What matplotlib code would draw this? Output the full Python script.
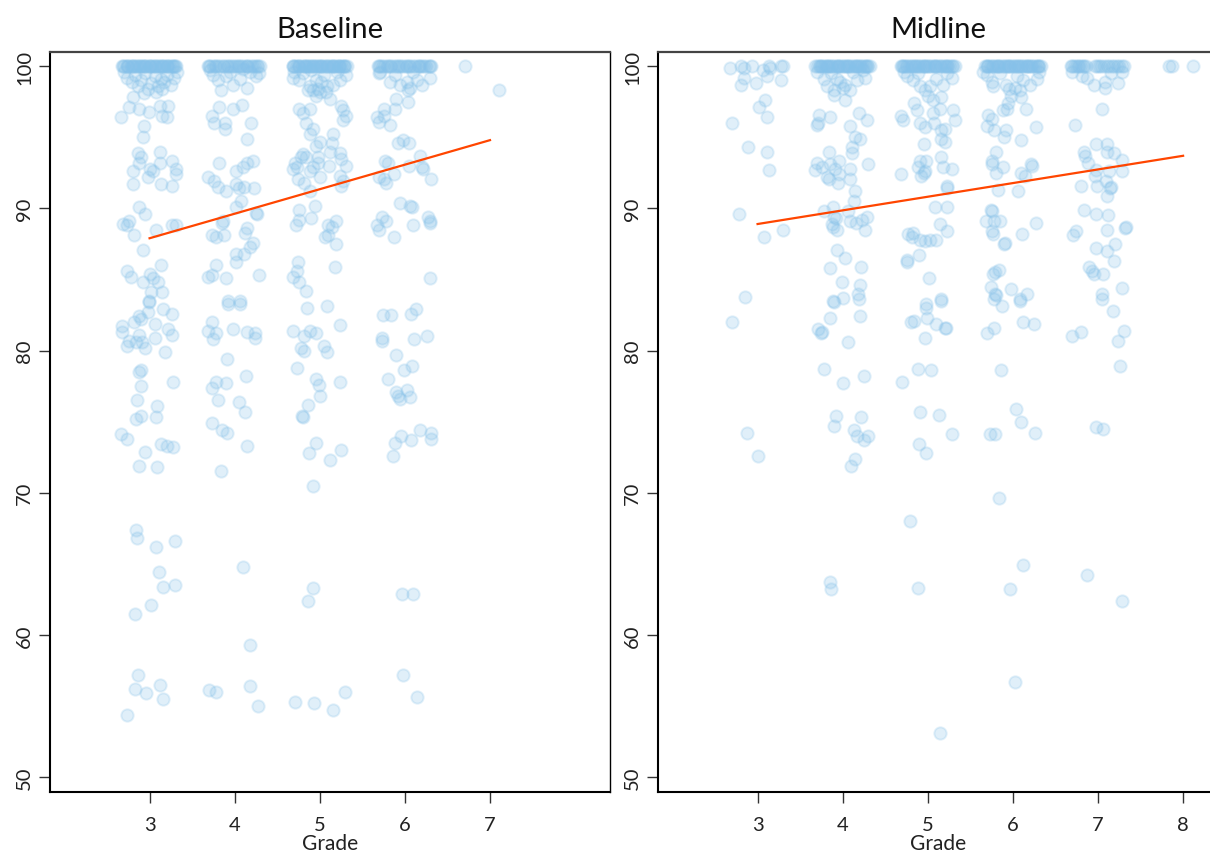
import matplotlib
matplotlib.use('Agg')
import matplotlib.pyplot as plt

plt.rcParams['font.family'] = ['Lato', 'DejaVu Sans']

panel_titles = ['Baseline', 'Midline']
x_label = 'Grade'
base_ticks = [3, 4, 5, 6, 7]
mid_ticks = [3, 4, 5, 6, 7, 8]
y_ticks = [50, 60, 70, 80, 90, 100]

# ---------------- Baseline ----------------
# jittered grade of the students who scored 100
base_top_x = [2.68, 2.70, 2.73, 2.75, 2.78, 2.80, 2.82, 2.85, 2.87, 2.89, 2.92, 2.94, 2.96, 2.99,
              3.01, 3.03, 3.06, 3.08, 3.10, 3.13, 3.15, 3.17, 3.20, 3.22, 3.24, 3.27, 3.29, 3.31,
              2.69, 2.74, 2.79, 2.84, 2.90, 2.95, 3.00, 3.05, 3.11, 3.16, 3.21, 3.26, 3.30,
              3.69, 3.71, 3.74, 3.77, 3.80, 3.83, 3.86, 3.88, 3.91, 3.94, 3.97, 3.99, 4.02, 4.05,
              4.08, 4.10, 4.13, 4.16, 4.19, 4.22, 4.24, 4.27, 4.30, 3.70, 3.78, 3.92, 4.04, 4.15, 4.26,
              4.68, 4.70, 4.72, 4.74, 4.76, 4.79, 4.81, 4.83, 4.85, 4.87, 4.89, 4.91, 4.93, 4.95,
              4.97, 4.99, 5.01, 5.03, 5.05, 5.08, 5.10, 5.12, 5.14, 5.16, 5.18, 5.20, 5.22, 5.24,
              5.26, 5.28, 5.30, 5.32, 4.69, 4.75, 4.84, 4.92, 5.00, 5.07, 5.15, 5.23, 5.29,
              5.68, 5.71, 5.73, 5.76, 5.79, 5.82, 5.84, 5.87, 5.90, 5.92, 5.95, 5.98, 6.01, 6.03,
              6.06, 6.09, 6.12, 6.15, 6.17, 6.20, 6.23, 6.25, 6.28, 6.31, 5.70, 5.80, 5.93, 6.05,
              6.18, 6.29,
              6.71]

base_g3 = [(2.70, 99.6), (2.74, 99.2), (2.79, 98.9), (2.83, 99.4), (2.86, 98.6), (2.90, 99.0),
           (2.95, 99.5), (2.98, 98.4), (3.02, 98.8), (3.06, 99.3), (3.10, 98.6), (3.13, 99.1),
           (3.17, 98.9), (3.21, 99.4), (3.25, 98.7), (3.29, 99.2), (3.32, 99.6), (2.93, 98.1),
           (3.08, 98.2), (3.15, 98.4), (2.80, 97.8), (2.76, 97.1), (2.88, 97.0), (2.99, 96.8),
           (2.67, 96.4), (3.12, 97.2), (3.22, 97.2), (3.15, 96.5), (3.21, 96.4), (2.93, 95.8),
           (2.92, 95.0), (2.86, 93.9), (2.90, 93.6), (3.12, 94.0), (2.88, 93.2), (2.80, 92.6),
           (3.00, 92.8), (3.04, 92.6), (2.98, 92.2), (3.26, 93.3), (3.31, 92.8), (3.31, 92.4),
           (3.12, 93.2), (2.80, 91.7), (3.14, 91.7), (3.26, 91.6), (2.88, 90.1), (2.95, 89.6),
           (2.69, 88.9), (2.76, 89.1), (2.73, 88.8), (2.82, 88.1), (3.07, 88.5), (3.26, 88.8),
           (3.31, 88.8), (2.92, 87.1), (2.73, 85.6), (2.78, 85.2), (3.14, 86.0), (3.00, 85.4),
           (3.04, 85.1), (2.92, 84.8), (3.10, 84.8), (3.02, 84.1), (3.15, 84.1), (2.99, 83.5),
           (2.99, 83.4), (3.16, 82.9), (3.26, 82.6), (2.98, 82.7), (2.87, 82.4), (2.82, 82.0),
           (2.90, 82.2), (3.06, 81.9), (2.68, 81.7), (2.68, 81.3), (3.22, 81.5), (3.26, 81.1),
           (2.88, 81.1), (2.76, 80.7), (2.84, 80.6), (2.91, 80.6), (3.06, 80.9), (2.74, 80.3),
           (2.95, 80.2), (3.18, 79.9), (2.87, 78.5), (2.90, 78.6), (3.27, 77.8), (2.90, 77.5),
           (2.85, 76.5), (3.09, 76.1), (2.84, 75.2), (2.90, 75.4), (3.07, 75.3), (2.67, 74.1),
           (2.73, 73.8), (3.13, 73.4), (3.20, 73.3), (3.28, 73.2), (2.95, 72.9), (2.87, 71.9),
           (3.09, 71.8), (2.84, 67.4), (2.85, 66.8), (3.08, 66.2), (3.30, 66.6), (3.11, 64.4),
           (3.16, 63.4), (3.30, 63.5), (3.02, 62.1), (2.83, 61.5), (2.86, 57.2), (2.83, 56.2),
           (2.96, 55.9), (3.12, 56.5), (3.16, 55.5), (2.74, 54.4)]

base_g4 = [(3.71, 99.7), (3.75, 99.4), (3.80, 99.0), (3.84, 98.3), (3.90, 99.3), (3.95, 99.6),
           (3.98, 98.7), (4.06, 99.1), (4.10, 99.8), (4.14, 98.5), (4.18, 99.6), (4.25, 99.3),
           (4.29, 99.5), (3.82, 97.1), (3.98, 97.0), (4.09, 97.3), (3.73, 96.5), (3.76, 96.0),
           (3.89, 96.0), (3.89, 95.6), (4.19, 96.0), (4.15, 94.9), (3.82, 93.2), (3.69, 92.2),
           (3.76, 91.9), (3.80, 91.5), (3.90, 91.2), (4.02, 92.6), (4.10, 92.9), (4.14, 93.2),
           (4.22, 93.3), (4.02, 91.7), (4.05, 91.4), (4.11, 91.5), (4.23, 91.4), (4.08, 90.5),
           (4.02, 90.1), (4.26, 89.6), (4.25, 89.7), (3.86, 89.1), (3.85, 89.0), (3.73, 88.1),
           (3.78, 88.0), (3.88, 88.1), (4.14, 88.6), (4.12, 88.3), (4.22, 87.6), (4.18, 87.3),
           (4.02, 86.8), (4.11, 86.8), (4.02, 86.2), (3.78, 86.0), (3.69, 85.2), (3.73, 85.3),
           (3.90, 85.1), (4.29, 85.3), (3.92, 83.5), (4.06, 83.5), (3.92, 83.3), (4.06, 83.3),
           (3.73, 82.0), (3.69, 81.4), (3.78, 81.2), (3.75, 80.8), (3.98, 81.5), (4.14, 81.3),
           (4.24, 81.2), (4.24, 80.9), (3.91, 79.4), (4.13, 78.2), (3.73, 77.4), (3.78, 77.8),
           (3.90, 77.7), (3.80, 76.5), (4.05, 76.4), (4.12, 75.7), (3.73, 74.9), (3.85, 74.4),
           (3.91, 74.2), (4.14, 73.3), (3.84, 71.5), (4.10, 64.8), (4.18, 59.3), (3.70, 56.1),
           (3.78, 56.0), (4.18, 56.4), (4.27, 55.0)]

base_g5 = [(4.68, 99.2), (4.70, 99.6), (4.76, 99.0), (4.80, 99.5), (4.86, 98.3), (4.89, 98.6),
           (4.90, 99.7), (4.92, 98.3), (4.95, 99.0), (4.96, 97.9), (4.98, 98.4), (5.00, 98.2),
           (5.02, 98.9), (5.05, 99.4), (5.07, 98.2), (5.08, 98.6), (5.12, 97.7), (5.15, 98.7),
           (5.20, 99.6), (5.24, 99.0), (5.31, 99.4), (4.76, 97.0), (4.89, 97.0), (4.80, 96.7),
           (5.25, 97.2), (5.27, 96.9), (5.31, 96.5), (5.27, 96.2), (4.84, 96.0), (4.92, 95.6),
           (4.88, 95.2), (5.16, 95.2), (5.00, 94.7), (5.14, 94.6), (4.96, 94.4), (5.12, 94.0),
           (5.24, 93.9), (4.80, 93.8), (4.78, 93.6), (4.84, 93.6), (4.71, 93.2), (4.73, 92.9),
           (4.92, 92.9), (4.98, 93.6), (4.98, 93.2), (5.11, 93.0), (5.25, 93.5), (5.31, 93.0),
           (4.68, 92.8), (4.88, 92.6), (5.00, 92.2), (4.74, 92.1), (4.82, 91.8), (5.24, 92.3),
           (5.27, 91.9), (5.25, 91.6), (4.88, 91.2), (4.94, 90.2), (4.76, 89.9), (4.90, 89.3),
           (4.76, 89.2), (4.72, 88.8), (5.19, 89.1), (5.10, 88.8), (5.14, 88.7), (5.06, 88.0),
           (5.10, 88.1), (5.19, 87.5), (4.74, 86.2), (4.73, 85.6), (4.69, 85.2), (4.76, 84.8),
           (4.84, 84.2), (5.18, 85.9), (4.85, 83.0), (5.09, 83.1), (5.24, 81.8), (4.69, 81.4),
           (4.81, 81.0), (4.88, 81.4), (4.96, 81.2), (4.78, 80.2), (4.81, 80.0), (5.05, 80.3),
           (5.08, 79.9), (4.73, 78.8), (4.95, 78.0), (4.99, 77.6), (5.24, 77.8), (5.00, 76.8),
           (4.86, 76.2), (4.79, 75.4), (4.80, 75.3), (4.96, 73.5), (4.87, 72.8), (5.25, 73.0),
           (5.12, 72.3), (4.92, 70.5), (4.92, 63.3), (4.86, 62.4), (4.71, 55.3), (4.93, 55.2),
           (5.16, 54.7), (5.30, 56.0)]

base_g6 = [(5.70, 99.5), (5.71, 99.6), (5.82, 98.9), (5.94, 98.7), (6.02, 98.9), (6.04, 98.3),
           (6.06, 98.5), (6.14, 99.0), (6.20, 98.7), (6.29, 99.2), (5.88, 99.4), (6.10, 99.6),
           (5.90, 97.7), (6.04, 97.5), (5.76, 97.0), (5.88, 97.0), (5.67, 96.4), (5.76, 96.5),
           (5.70, 96.1), (5.82, 95.9), (5.92, 94.6), (5.98, 94.8), (6.05, 94.6), (5.77, 93.3),
           (5.80, 93.2), (6.05, 93.0), (6.18, 93.7), (6.20, 92.9), (6.21, 92.8), (5.69, 92.2),
           (5.75, 92.1), (5.87, 92.4), (5.78, 91.8), (6.31, 92.1), (5.94, 90.4), (6.06, 90.2),
           (6.08, 90.1), (5.73, 89.4), (5.78, 89.1), (5.67, 88.8), (5.69, 88.5), (5.87, 88.0),
           (6.09, 88.8), (6.27, 89.4), (6.29, 89.1), (6.30, 89.0), (6.29, 85.1), (5.74, 82.5),
           (5.84, 82.5), (6.07, 82.6), (6.13, 82.9), (5.73, 80.9), (5.73, 80.7), (6.11, 80.8),
           (6.26, 81.0), (5.89, 79.7), (5.99, 78.6), (6.08, 78.9), (5.80, 78.0), (5.89, 77.1),
           (5.92, 76.8), (5.94, 76.6), (6.03, 77.2), (6.06, 76.7), (5.96, 74.0), (5.88, 73.5),
           (6.07, 73.7), (6.18, 74.4), (6.31, 74.2), (6.31, 73.8), (5.86, 72.6), (5.97, 62.9),
           (6.09, 62.9), (5.98, 57.2), (6.14, 55.6), (7.11, 98.3)]

base_fit_x = [3, 7]
base_fit_y = [87.9, 94.8]

# ---------------- Midline ----------------
mid_top_x = [2.80, 2.94, 3.13, 3.27, 3.30,
             3.68, 3.70, 3.72, 3.74, 3.76, 3.78, 3.80, 3.82, 3.84, 3.86, 3.88, 3.90, 3.92, 3.94,
             3.96, 3.98, 4.00, 4.02, 4.04, 4.06, 4.08, 4.10, 4.12, 4.14, 4.16, 4.18, 4.20, 4.22,
             4.24, 4.26, 4.28, 4.30, 4.32, 3.73, 3.83, 3.95, 4.05, 4.17, 4.27,
             4.68, 4.70, 4.72, 4.74, 4.76, 4.78, 4.80, 4.82, 4.84, 4.86, 4.88, 4.90, 4.92, 4.94,
             4.96, 4.98, 5.00, 5.02, 5.04, 5.06, 5.08, 5.10, 5.12, 5.14, 5.16, 5.18, 5.20, 5.22,
             5.24, 5.26, 5.28, 5.30, 5.32, 4.71, 4.85, 4.97, 5.09, 5.21,
             5.67, 5.69, 5.71, 5.73, 5.75, 5.77, 5.79, 5.81, 5.83, 5.85, 5.87, 5.89, 5.91, 5.93,
             5.95, 5.97, 5.99, 6.01, 6.03, 6.05, 6.07, 6.09, 6.11, 6.13, 6.15, 6.17, 6.19, 6.21,
             6.23, 6.25, 6.27, 6.29, 6.31, 6.33, 5.70, 5.82, 5.94, 6.06, 6.18, 6.30,
             6.68, 6.70, 6.72, 6.74, 6.76, 6.78, 6.80, 6.82, 6.84, 6.86, 6.97, 6.99, 7.01, 7.04,
             7.07, 7.10, 7.13, 7.16, 7.19, 7.22, 7.25, 7.28, 7.31,
             7.84, 7.87, 8.12]

mid_g3 = [(2.68, 99.9), (2.84, 99.9), (3.15, 99.9), (3.06, 99.7), (2.84, 99.2), (2.80, 98.7),
          (2.98, 98.8), (3.11, 99.3), (3.28, 99.0), (3.09, 97.6), (3.02, 97.1), (3.11, 96.4),
          (2.70, 96.0), (2.89, 94.3), (3.11, 94.0), (3.13, 92.7), (2.78, 89.6), (3.30, 88.5),
          (3.08, 88.0), (2.85, 83.8), (2.70, 82.0), (2.87, 74.2), (3.01, 72.6)]

mid_g4 = [(3.70, 99.6), (3.78, 99.1), (3.82, 98.6), (3.90, 98.3), (4.00, 98.5), (4.03, 98.7),
          (4.09, 98.3), (4.17, 99.0), (4.26, 99.2), (4.24, 99.7), (3.93, 99.1), (3.90, 98.0),
          (4.03, 97.6), (3.86, 99.5), (4.12, 99.6), (3.97, 98.9), (3.72, 96.6), (3.85, 96.4),
          (3.70, 95.9), (3.71, 96.0), (4.09, 95.8), (4.19, 96.7), (4.29, 96.2), (4.15, 95.0),
          (4.20, 94.9), (4.11, 94.3), (4.11, 93.9), (3.84, 94.0), (3.70, 93.2), (3.76, 92.9),
          (3.68, 92.7), (3.85, 93.1), (3.96, 93.3), (3.91, 92.8), (3.82, 92.2), (3.84, 92.1),
          (3.94, 91.8), (3.96, 92.4), (4.09, 92.8), (4.09, 92.1), (4.30, 93.1), (4.14, 91.2),
          (4.13, 90.5), (3.89, 90.1), (3.78, 89.8), (4.06, 89.8), (3.90, 89.4), (3.92, 89.3),
          (4.09, 89.1), (4.16, 89.0), (4.23, 89.2), (4.28, 89.4), (3.87, 88.9), (3.89, 88.7),
          (3.93, 88.5), (4.26, 88.5), (3.93, 87.1), (4.03, 86.5), (3.85, 85.8), (4.21, 85.9),
          (3.99, 84.8), (4.20, 84.6), (4.18, 84.0), (3.89, 83.5), (4.00, 83.7), (3.90, 83.4),
          (4.19, 83.6), (3.85, 82.3), (4.20, 82.4), (3.71, 81.5), (3.74, 81.2), (3.76, 81.3),
          (4.06, 80.6), (3.78, 78.7), (4.00, 77.7), (4.25, 78.2), (3.92, 75.4), (3.90, 74.7),
          (4.22, 75.3), (4.13, 74.4), (4.17, 74.0), (4.25, 73.7), (4.30, 74.0), (4.15, 72.4),
          (4.10, 71.9), (3.85, 63.7), (3.86, 63.2)]

mid_g5 = [(4.75, 99.3), (4.83, 99.0), (4.91, 98.6), (4.97, 98.3), (5.03, 98.6), (5.10, 99.1),
          (5.18, 98.7), (5.28, 99.2), (5.00, 97.9), (5.06, 97.6), (5.16, 97.8), (4.72, 99.6),
          (4.88, 99.5), (5.22, 99.5), (4.84, 97.4), (4.87, 96.9), (5.06, 96.7), (5.14, 97.0),
          (5.30, 96.9), (5.32, 96.2), (4.68, 96.5), (4.71, 96.2), (4.91, 96.0), (4.97, 95.7),
          (5.07, 96.0), (5.16, 95.5), (5.20, 95.6), (5.15, 94.9), (5.20, 94.7), (4.95, 94.5),
          (5.16, 93.6), (4.91, 93.3), (4.98, 93.3), (4.89, 92.9), (4.97, 92.6), (4.96, 92.5),
          (5.18, 92.9), (5.29, 92.8), (4.69, 92.4), (4.92, 92.3), (5.22, 91.6), (5.23, 91.4),
          (5.09, 90.1), (5.22, 90.1), (5.14, 88.9), (5.22, 88.4), (4.77, 88.2), (4.83, 88.3),
          (4.81, 88.0), (4.91, 87.8), (4.97, 87.7), (5.03, 87.8), (5.10, 87.8), (4.75, 86.4),
          (4.76, 86.2), (4.90, 86.7), (5.02, 85.1), (5.16, 83.6), (4.98, 83.3), (4.98, 83.0),
          (5.15, 83.5), (4.80, 82.0), (4.84, 82.1), (4.99, 82.3), (5.10, 81.9), (5.20, 81.6),
          (5.21, 81.6), (4.97, 80.9), (4.88, 78.7), (5.04, 78.6), (4.70, 77.8), (4.91, 75.7),
          (5.13, 75.5), (5.28, 74.1), (4.90, 73.4), (4.98, 72.8), (4.79, 68.0), (4.88, 63.3),
          (5.14, 53.1)]

mid_g6 = [(5.65, 99.6), (5.75, 98.9), (5.77, 98.6), (5.92, 98.7), (5.96, 98.4), (6.02, 98.5),
          (6.12, 99.0), (6.20, 98.7), (6.28, 99.1), (6.31, 99.6), (5.98, 97.9), (6.08, 98.3),
          (5.70, 99.4), (5.85, 99.5), (6.05, 99.3), (5.94, 97.4), (6.10, 97.8), (6.15, 97.0),
          (5.88, 96.9), (5.93, 97.0), (5.71, 96.6), (5.75, 96.3), (5.70, 95.8), (5.78, 95.5),
          (5.92, 95.5), (5.90, 95.0), (6.27, 95.7), (6.10, 94.8), (5.80, 94.0), (5.75, 93.3),
          (5.76, 93.1), (5.88, 92.9), (5.80, 92.5), (6.09, 92.5), (6.14, 92.3), (6.21, 93.1),
          (6.22, 93.0), (5.82, 91.3), (6.06, 91.2), (5.74, 89.9), (5.75, 89.8), (5.68, 89.1),
          (5.78, 89.1), (5.85, 89.1), (5.76, 88.4), (5.77, 88.2), (6.11, 88.2), (6.27, 89.0),
          (5.90, 87.5), (5.91, 87.6), (5.84, 85.7), (5.77, 85.4), (5.79, 85.5), (5.74, 84.5),
          (5.79, 84.0), (5.80, 83.9), (5.98, 84.3), (6.08, 83.6), (6.16, 84.0), (5.78, 83.6),
          (5.87, 83.1), (6.08, 83.5), (5.70, 81.2), (5.78, 81.6), (6.12, 82.0), (6.25, 81.9),
          (5.86, 78.6), (6.04, 75.9), (6.09, 75.0), (5.73, 74.1), (5.79, 74.1), (6.26, 74.2),
          (5.84, 69.6), (6.12, 64.9), (5.97, 63.2), (6.03, 56.7)]

mid_g7 = [(6.70, 99.6), (6.81, 99.3), (6.87, 99.2), (6.95, 98.7), (7.08, 98.5), (7.24, 98.8),
          (7.28, 99.6), (7.08, 98.9), (7.15, 99.5), (7.05, 97.0), (6.73, 95.9), (6.83, 94.0),
          (6.85, 93.7), (6.98, 94.5), (7.10, 94.5), (7.11, 94.0), (7.19, 93.9), (6.88, 93.2),
          (7.28, 93.4), (6.98, 92.7), (7.13, 92.6), (7.28, 92.6), (6.96, 92.3), (7.09, 91.9),
          (6.80, 91.6), (6.99, 91.6), (7.15, 91.5), (7.14, 91.4), (7.11, 90.9), (6.83, 89.9),
          (6.98, 89.6), (7.12, 89.5), (7.33, 88.7), (7.32, 88.6), (6.74, 88.4), (6.71, 88.1),
          (7.10, 88.5), (6.98, 87.2), (7.11, 87.0), (7.20, 87.5), (7.19, 86.3), (6.90, 85.9),
          (6.93, 85.6), (6.95, 85.4), (7.06, 85.4), (7.05, 84.0), (7.28, 84.4), (7.05, 83.6),
          (7.18, 82.8), (7.31, 81.4), (7.24, 80.7), (6.80, 81.3), (6.70, 81.0), (7.26, 78.9),
          (6.98, 74.6), (7.06, 74.5), (6.87, 64.2), (7.28, 62.4)]

mid_fit_x = [3, 8]
mid_fit_y = [88.9, 93.7]

# ---------------- drawing ----------------
point_color = '#85C1E9'
line_color = '#FF4500'

W, H = 1210, 853
fig = plt.figure(figsize=(W / 100, H / 100), dpi=100)
ax_b = fig.add_axes([50 / W, 60 / H, 560 / W, 740 / H])
ax_m = fig.add_axes([658 / W, 60 / H, 560 / W, 740 / H])


def draw(ax, top_x, groups, fit_x, fit_y, ticks, title, right_spine):
    xs = list(top_x)
    ys = [100.0] * len(top_x)
    for g in groups:
        xs += [p[0] for p in g]
        ys += [p[1] for p in g]
    ax.scatter(xs, ys, s=78, color=point_color, alpha=0.25, linewidths=1.4,
               edgecolors=point_color, zorder=2)
    ax.plot(fit_x, fit_y, color=line_color, lw=1.6, zorder=3)
    ax.set_xlim(1.83, 8.41)
    ax.set_ylim(48.95, 101.0)
    ax.set_xticks(ticks)
    ax.set_yticks(y_ticks)
    ax.set_yticklabels([str(t) for t in y_ticks], rotation=90, va='center')
    ax.tick_params(axis='both', direction='out', length=8, width=1.0, color='#333333',
                   labelsize=14.5, labelcolor='#222222')
    ax.tick_params(axis='x', pad=9)
    ax.tick_params(axis='y', pad=4)
    ax.set_xlabel(x_label, fontsize=15, color='#222222', labelpad=0)
    ax.set_title(title, fontsize=21, color='#111111', pad=11)
    ax.spines['left'].set_linewidth(1.5)
    ax.spines['bottom'].set_linewidth(1.5)
    ax.spines['left'].set_color('black')
    ax.spines['bottom'].set_color('black')
    ax.spines['top'].set_color('#444444')
    ax.spines['top'].set_linewidth(1.6)
    ax.spines['right'].set_color('black')
    ax.spines['right'].set_linewidth(1.0)
    ax.spines['right'].set_visible(right_spine)


draw(ax_b, base_top_x, [base_g3, base_g4, base_g5, base_g6], base_fit_x, base_fit_y,
     base_ticks, panel_titles[0], True)
draw(ax_m, mid_top_x, [mid_g3, mid_g4, mid_g5, mid_g6, mid_g7], mid_fit_x, mid_fit_y,
     mid_ticks, panel_titles[1], False)

fig.savefig('out.png', dpi=100)
